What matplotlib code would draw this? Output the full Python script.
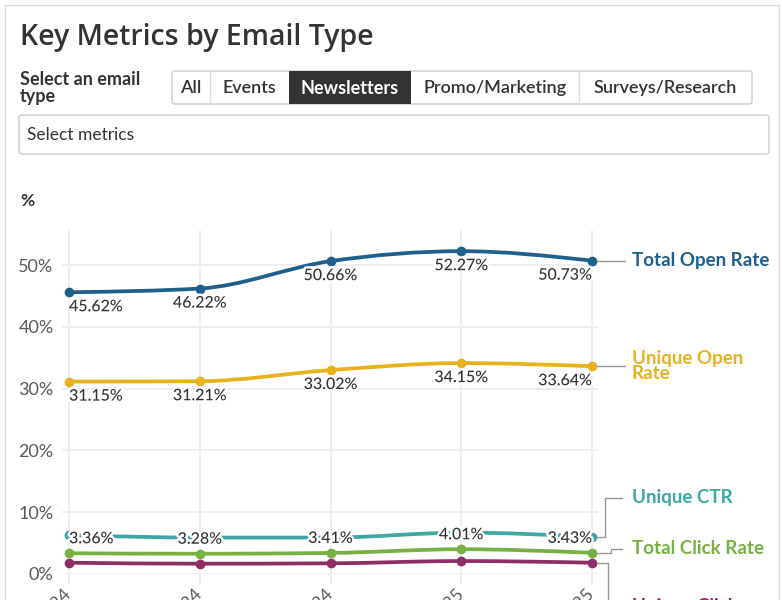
import numpy as np
import matplotlib
matplotlib.use("Agg")
import matplotlib.pyplot as plt
from matplotlib.path import Path
from matplotlib.patches import PathPatch, FancyBboxPatch, Rectangle
from matplotlib.lines import Line2D
from matplotlib.transforms import IdentityTransform
import matplotlib.patheffects as pe

# ---- data ----
periods = ["Q2 2024", "Q3 2024", "Q4 2024", "Q1 2025", "Q2 2025"]
total_open = [45.62, 46.22, 50.66, 52.27, 50.73]
unique_open = [31.15, 31.21, 33.02, 34.15, 33.64]
unique_ctr = [6.3, 5.9, 5.9, 6.7, 6.0]
total_click = [3.36, 3.28, 3.41, 4.01, 3.43]
unique_click = [1.83, 1.67, 1.73, 2.10, 1.83]

email_types = ["All", "Events", "Newsletters", "Promo/Marketing", "Surveys/Research"]
selected_type = "Newsletters"

C_BLUE = "#1f5f8b"
C_GOLD = "#e8b21e"
C_TEAL = "#3fa6a4"
C_GREEN = "#78b043"
C_PURPLE = "#8f2e66"
TXT = "#333333"

W, H = 782, 600
plt.rcParams["font.family"] = ["Lato", "DejaVu Sans"]


def fx(x):
    return x / W


def fy(y):
    return 1 - y / H


def monotone_path(xs, ys):
    # d3 curveMonotoneX style bezier path through the points
    xs = np.asarray(xs, float)
    ys = np.asarray(ys, float)
    n = len(xs)
    h = np.diff(xs)
    s = np.diff(ys) / h
    t = np.zeros(n)
    for i in range(1, n - 1):
        p = (s[i - 1] * h[i] + s[i] * h[i - 1]) / (h[i - 1] + h[i])
        t[i] = (np.sign(s[i - 1]) + np.sign(s[i])) * min(abs(s[i - 1]), abs(s[i]), 0.5 * abs(p))
    t[0] = (3 * s[0] - t[1]) / 2
    t[-1] = (3 * s[-1] - t[-2]) / 2
    verts = [(xs[0], ys[0])]
    codes = [Path.MOVETO]
    for i in range(n - 1):
        dx = h[i] / 3
        verts += [(xs[i] + dx, ys[i] + dx * t[i]),
                  (xs[i + 1] - dx, ys[i + 1] - dx * t[i + 1]),
                  (xs[i + 1], ys[i + 1])]
        codes += [Path.CURVE4] * 3
    return Path(verts, codes)


fig = plt.figure(figsize=(W / 100, H / 100), dpi=100)
fig.patch.set_facecolor("white")

# card border
fig.patches.append(Rectangle((fx(5), fy(620)), fx(774), 615 / H, transform=fig.transFigure,
                             fill=False, edgecolor="#dddddd", lw=1))

# header
fig.text(fx(20), fy(37), "Key Metrics by Email Type", fontsize=20.5, fontweight="semibold",
         color=TXT, va="center", ha="left", family=["Open Sans", "DejaVu Sans"])
fig.text(fx(20), fy(88), "Select an email\ntype", fontsize=13, fontweight="bold", color=TXT,
         va="center", ha="left", linespacing=1.0)

# segmented control
seg_edges = [172, 210, 289, 411, 579, 752]
fig.patches.append(FancyBboxPatch((fx(172), fy(104)), fx(580), 33 / H,
                                  boxstyle="round,pad=0,rounding_size=0.004",
                                  transform=fig.transFigure, fill=False,
                                  edgecolor="#cccccc", lw=1))
for i, name in enumerate(email_types):
    x0, x1 = seg_edges[i], seg_edges[i + 1]
    if name == selected_type:
        fig.patches.append(Rectangle((fx(x0), fy(104)), fx(x1 - x0), 33 / H,
                                     transform=fig.transFigure, facecolor="#333333",
                                     edgecolor="none"))
        col, wt = "white", "bold"
    else:
        col, wt = TXT, "semibold"
        if i > 0 and email_types[i - 1] != selected_type:
            fig.lines.append(Line2D([fx(x0), fx(x0)], [fy(72), fy(103)],
                                    transform=fig.transFigure, color="#dddddd", lw=1))
    fig.text(fx((x0 + x1) / 2), fy(88), name, fontsize=13, fontweight=wt, color=col,
             ha="center", va="center")

# select metrics box
fig.patches.append(FancyBboxPatch((fx(19), fy(154)), fx(750), 39 / H,
                                  boxstyle="round,pad=0,rounding_size=0.004",
                                  transform=fig.transFigure, fill=False,
                                  edgecolor="#cccccc", lw=1))
fig.text(fx(27), fy(135), "Select metrics", fontsize=12.5, color=TXT, ha="left", va="center")

# ---- chart ----
ax = fig.add_axes([fx(62), fy(574), fx(598 - 62), (574 - 230) / H])
x = np.arange(len(periods))
ax.set_xlim(-0.054, 4.046)
ax.set_ylim(0, 55.7)
for s in ax.spines.values():
    s.set_visible(False)
ax.set_yticks([0, 10, 20, 30, 40, 50])
ax.set_yticklabels([f"{v}%" for v in [0, 10, 20, 30, 40, 50]])
ax.set_xticks(x)
ax.set_xticklabels(periods, rotation=45, ha="right", va="center", rotation_mode="anchor")
ax.tick_params(axis="y", length=0, pad=6, labelsize=13, labelcolor="#5a5a5a")
ax.tick_params(axis="x", length=7, width=1.2, color="#e8e8e8", pad=6, labelsize=13,
               labelcolor="#5a5a5a")
ax.grid(True, color="#eeeeee", lw=1.4)
ax.set_axisbelow(True)
fig.text(fx(20), fy(201), "%", fontsize=12.5, fontweight="bold", color=TXT, va="center")

series = [
    ("Total Open Rate", total_open, C_BLUE),
    ("Unique Open Rate", unique_open, C_GOLD),
    ("Unique CTR", unique_ctr, C_TEAL),
    ("Total Click Rate", total_click, C_GREEN),
    ("Unique Click Rate", unique_click, C_PURPLE),
]
for name, vals, col in series:
    ax.add_patch(PathPatch(monotone_path(x, vals), fill=False, edgecolor=col, lw=2.7,
                           capstyle="round", zorder=3))
    ax.plot(x, vals, "o", color=col, ms=6, zorder=4)

# value labels
halo = [pe.withStroke(linewidth=3.5, foreground="white")]


def value_labels(vals, dy):
    for i, v in enumerate(vals):
        ha = "left" if i == 0 else ("right" if i == len(vals) - 1 else "center")
        ax.annotate(f"{v:.2f}%", (x[i], v), xytext=(0, dy), textcoords="offset pixels",
                    ha=ha, va="center", fontsize=11.5, fontweight="medium", color=TXT,
                    zorder=6, path_effects=halo)


value_labels(total_open, -15)
value_labels(unique_open, -15)
value_labels(total_click, 14)

# series labels on the right with connectors
# (label dy in px, elbow x offset in px); positive dy = up
right_labels = [
    ("Total Open Rate", total_open, C_BLUE, 0, 0),
    ("Unique Open\nRate", unique_open, C_GOLD, 0, 0),
    ("Unique CTR", unique_ctr, C_TEAL, 39, 13),
    ("Total Click Rate", total_click, C_GREEN, 4, 19),
    ("Unique Click\nRate", unique_click, C_PURPLE, -44, 16),
]
fig.canvas.draw()
for label, vals, col, dy, ex in right_labels:
    px, py = ax.transData.transform((x[-1], vals[-1]))
    if dy == 0:
        xs, ys = [px + 5, px + 33], [py, py]
    else:
        xs = [px + 5, px + ex, px + ex, px + 30]
        ys = [py, py, py + dy, py + dy]
    fig.lines.append(Line2D(xs, ys, transform=IdentityTransform(), color="#999999", lw=1))
    if "\n" in label and dy < 0:
        tx, ty = (px + 40) / W, (py + dy + 9) / H
        va = "top"
    else:
        tx, ty = (px + 40) / W, (py + dy) / H
        va = "center"
    fig.text(tx, ty, label, fontsize=13.5, fontweight="bold", color=col, ha="left", va=va,
             linespacing=0.85)

fig.savefig("out.png", dpi=100)
